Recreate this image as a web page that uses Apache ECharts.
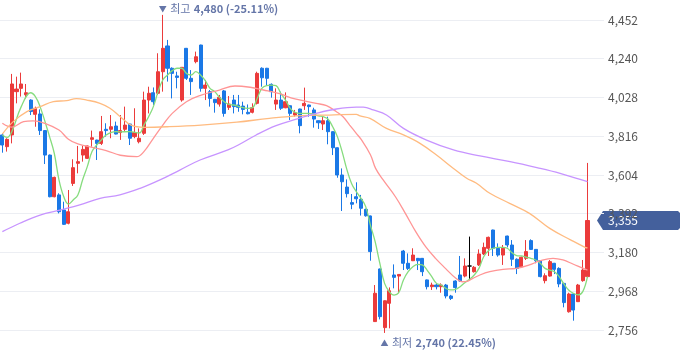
<!DOCTYPE html>
<html><head><meta charset="utf-8">
<script src="https://cdn.jsdelivr.net/npm/echarts@6/dist/echarts.min.js"></script>
<style>html,body{margin:0;padding:0;background:#fff}#c{width:680px;height:358px}</style>
</head><body><div id="c"></div>
<script>
const opens  = [3823,3759,3823,4060,4078,4043,4014,3936,3938,3847,3713,3485,3495,3413,3340,3558,3668,3713,3695,3799,3795,3777,3854,3854,3872,3836,3854,3883,3814,3786,3832,4014,4054,4051,4169,4310,4188,4146,4014,4297,4133,4224,4315,4078,4060,4018,3992,4064,3974,4014,3987,3981,3947,3947,3996,4188,4188,4100,3992,4014,3972,3983,3932,3965,3983,3987,3960,3901,3883,3901,3841,3753,3604,3538,3453,3485,3471,3416,3380,2802,3090,2769,2902,3057,3051,3188,3121,3135,3148,3148,3030,2993,3002,2993,3002,2942,3024,3057,3051,3106,3075,3112,3172,3203,3303,3203,3166,3270,3221,3143,3102,3148,3245,3197,3135,3026,3051,3121,3093,3011,2856,2953,2911,3026,3048];
const closes = [3768,3799,4102,4074,4102,4054,3951,3969,3847,3713,3485,3591,3403,3334,3403,3644,3677,3744,3763,3808,3777,3841,3847,3868,3828,3847,3877,3805,3836,3805,4014,4051,4005,4169,4297,4188,4160,4138,4193,4133,4115,4251,4078,4096,4023,4000,4029,3941,3992,3978,3974,3963,3939,3972,4160,4136,4133,4060,4014,3969,4005,3941,3945,3874,3996,3978,3910,3890,3901,3841,3753,3604,3567,3502,3444,3474,3422,3381,3185,2957,2829,2916,2971,3044,3060,3121,3093,3166,3135,3075,2993,3002,2993,3002,2942,2929,2988,3024,3106,3106,3099,3172,3208,3263,3203,3166,3203,3221,3143,3093,3154,3185,3197,3135,3048,3053,3130,3088,3008,2906,2953,2865,3002,3084,3355];
const lows   = [3726,3732,3777,3996,4033,4023,3932,3868,3823,3664,3482,3482,3394,3331,3334,3544,3613,3677,3692,3759,3686,3768,3814,3805,3826,3796,3841,3768,3805,3777,3823,3941,3987,4042,4060,4115,4023,4078,4005,4124,4042,4215,4060,4014,3978,3945,3978,3923,3960,3941,3950,3936,3936,3941,3990,4087,4096,4027,3960,3960,3969,3905,3923,3832,3960,3923,3863,3856,3850,3772,3713,3589,3407,3481,3417,3449,3382,3376,3135,2800,2814,2740,2765,2984,2957,3084,3084,3133,3084,3051,2978,2975,2978,2960,2929,2920,2960,3020,3044,3029,3070,3106,3166,3161,3161,3157,3112,3208,3106,3062,3099,3139,3194,3121,3044,3011,3048,3062,2990,2880,2851,2807,2909,3020,3040];
const highs  = [3833,3805,4157,4142,4164,4102,4018,3978,3963,3850,3716,3595,3504,3458,3522,3690,3763,3763,3765,3847,3797,3927,3887,3932,3896,3932,3978,3885,3969,3859,4060,4087,4083,4270,4480,4343,4193,4169,4195,4299,4178,4279,4317,4124,4069,4020,4042,4069,4036,4042,4042,4005,3990,3996,4169,4193,4190,4105,4078,4060,4056,3987,3960,3967,4082,3989,3972,3903,3923,3923,3843,3755,3640,3580,3500,3564,3495,3420,3382,3002,3092,2918,2989,3115,3062,3194,3175,3203,3150,3150,3032,3015,3011,3011,3008,2948,3028,3161,3148,3267,3106,3197,3234,3267,3305,3230,3221,3272,3248,3148,3157,3248,3252,3199,3137,3066,3139,3123,3099,3013,2960,2957,3008,3139,3670];
const categories = Array.from({length: 128}, (_, i) => 'D' + (i + 1));
const yTicks = [2756, 2968, 3180, 3392, 3604, 3816, 4028, 4240, 4452];

const ma5 = [[0,3823],[1,3810],[2,3841],[4,3978],[6,4054],[7,4033],[8,3978],[10,3814],[11,3723],[12,3577],[13,3486],[14,3445],[15,3467],[16,3495],[17,3577],[18,3650],[19,3732],[20,3768],[21,3796],[22,3823],[24,3841],[25,3840],[27,3841],[29,3834],[30,3877],[31,3923],[32,3978],[33,4060],[34,4124],[35,4151],[36,4175],[37,4188],[38,4188],[39,4160],[40,4151],[41,4169],[42,4151],[43,4120],[44,4078],[45,4060],[46,4029],[47,4005],[48,3990],[49,3987],[50,3980],[51,3972],[52,3969],[53,3972],[54,4023],[55,4078],[56,4093],[57,4096],[58,4093],[59,4051],[60,4014],[61,3969],[62,3947],[63,3941],[64,3941],[65,3941],[66,3936],[67,3928],[68,3923],[69,3910],[70,3868],[71,3814],[72,3732],[73,3635],[74,3558],[75,3513],[76,3476],[77,3431],[78,3330],[79,3239],[80,3120],[81,3011],[82,2966],[83,2947],[84,2960],[85,3030],[86,3075],[87,3102],[88,3115],[89,3112],[90,3084],[91,3048],[92,3011],[93,3002],[94,2984],[95,2975],[96,2978],[97,2993],[98,3015],[99,3033],[100,3057],[101,3093],[102,3157],[103,3190],[104,3203],[105,3208],[106,3208],[107,3203],[108,3179],[109,3163],[110,3161],[111,3154],[112,3148],[113,3139],[114,3121],[115,3093],[116,3084],[117,3075],[118,3048],[119,3008],[120,2975],[121,2957],[122,2948],[123,2966],[124,3048]];
const ma20 = [[0,3887],[2,3866],[4.5,3896],[6.5,3900],[9,3887],[12,3850],[14,3800],[16,3774],[19,3755],[22,3738],[25,3712],[28.5,3704],[30,3732],[32,3805],[34,3877],[36,3941],[39,4005],[42,4040],[46,4069],[49.3,4091],[52.5,4084],[55.3,4069],[58.5,4050],[62,4020],[66.5,3996],[68.7,3983],[70.8,3950],[72.2,3923],[73.6,3877],[75,3832],[76,3800],[78,3715],[79.1,3640],[80.7,3577],[83.3,3485],[85.4,3394],[87.6,3294],[89.7,3212],[91.8,3148],[93.9,3093],[96.1,3039],[97.5,3020],[98.5,3022],[99.5,3036],[101.2,3057],[103.3,3075],[106.1,3088],[108.9,3093],[111.7,3112],[113.9,3134],[116.7,3148],[118.8,3139],[120.9,3117],[123.1,3093],[124,3084]];
const ma60 = [[0,3828],[2.3,3896],[5.2,3951],[8,3978],[10.8,4005],[13.6,4011],[15.7,4022],[17.9,4014],[20.7,3996],[22.8,3969],[25,3923],[27.3,3877],[30.1,3865],[35,3868],[42.1,3877],[49.7,3893],[56.6,3914],[63.6,3929],[69.3,3932],[75,3936],[75.8,3927],[77.9,3914],[81.4,3859],[85,3823],[88.5,3777],[92,3713],[95.6,3640],[98.4,3586],[100.4,3560],[103.3,3504],[107.5,3449],[111.7,3394],[116,3312],[120.5,3248],[123.5,3208],[124,3205]];
const ma120 = [[0,3294],[3.7,3340],[8,3385],[12.2,3412],[16.4,3440],[20.7,3476],[24.9,3495],[29.2,3531],[33.4,3577],[37.6,3631],[41.9,3686],[47.8,3741],[50,3768],[53.8,3823],[58,3874],[62.3,3910],[66.5,3941],[70.8,3965],[75,3975],[76.5,3975],[78.6,3960],[81.4,3932],[85,3859],[89.9,3795],[95.6,3741],[101.2,3708],[107.6,3677],[114,3640],[118.2,3613],[121.7,3586],[124,3568]];

const maxPoint = {idx: 34, value: 4480, text: '4,480 (-25.11%)', label: '최고'};
const minPoint = {idx: 81, value: 2740, text: '2,740 (22.45%)', label: '최저'};
const lastPrice = 3355;

const UP = '#eb3b3b', DOWN = '#1a78e6';
const FONT = '"Noto Sans CJK KR","Noto Sans",sans-serif';
const candleData = opens.map((o, i) => [o, closes[i], lows[i], highs[i]]);

const chart = echarts.init(document.getElementById('c'), null, {renderer: 'canvas'});
function maSeries(name, data, color, w) {
  return {name, type: 'line', xAxisIndex: 1, yAxisIndex: 0, data, smooth: 0.4, showSymbol: false,
    lineStyle: {color, width: w}, z: 5, silent: true};
}
const labelColor = '#6576a8';
chart.setOption({
  animation: false,
  grid: {left: 0, right: 76, top: 0, bottom: 0, containLabel: false},
  xAxis: [
    {type: 'category', data: categories, show: false, boundaryGap: true},
    {type: 'value', min: -0.5, max: 127.5, show: false}
  ],
  yAxis: {type: 'value', position: 'right', min: 2602.8, max: 4561.4,
    axisLine: {show: false}, axisTick: {show: false, customValues: yTicks},
    splitLine: {show: false},
    axisLabel: {margin: 4, color: '#555', fontSize: 12, fontFamily: FONT, customValues: yTicks,
      formatter: v => Number(v).toLocaleString('en-US')}
  },
  series: [
    {type: 'candlestick', xAxisIndex: 0, data: candleData, barWidth: '76%', z: 3,
      itemStyle: {color: UP, color0: DOWN, borderColor: UP, borderColor0: DOWN, borderColorDoji: '#000', borderWidth: 1},
      markLine: {
        silent: true, symbol: 'none', z: 1, label: {show: false},
        lineStyle: {color: '#eceef3', width: 1, type: 'solid'},
        data: yTicks.map(v => ({yAxis: v}))
      },
      markPoint: {
        symbol: 'circle', symbolSize: 0, silent: true,
        data: [
          {coord: [maxPoint.idx, maxPoint.value],
           label: {show: true, position: [-4, -6], align: 'left', verticalAlign: 'middle',
             formatter: '{a|▼} {c|' + maxPoint.label + '} {b|' + maxPoint.text + '}',
             rich: {a: {fontSize: 8, color: labelColor, fontFamily: FONT},
                    c: {fontSize: 11, color: labelColor, fontFamily: FONT},
                    b: {fontSize: 11, fontWeight: 'bold', color: labelColor, fontFamily: FONT}}}},
          {coord: [minPoint.idx, minPoint.value],
           label: {show: true, position: [-4, 10], align: 'left', verticalAlign: 'middle',
             formatter: '{a|▲} {c|' + minPoint.label + '} {b|' + minPoint.text + '}',
             rich: {a: {fontSize: 8, color: labelColor, fontFamily: FONT},
                    c: {fontSize: 11, color: labelColor, fontFamily: FONT},
                    b: {fontSize: 11, fontWeight: 'bold', color: labelColor, fontFamily: FONT}}}}
        ]
      }
    },
    maSeries('MA5', ma5, '#86dc7e', 1.3),
    maSeries('MA20', ma20, '#ff9595', 1.3),
    maSeries('MA60', ma60, '#ffbb80', 1.3),
    maSeries('MA120', ma120, '#c794ff', 1.3)
  ]
});

const py = chart.convertToPixel({yAxisIndex: 0}, lastPrice);
chart.setOption({
  graphic: [{
    type: 'group', z: 100,
    children: [
      {type: 'polygon', shape: {points: [[597, py], [603, py - 9.5], [678, py - 9.5], [680, py - 7.5], [680, py + 7.5], [678, py + 9.5], [603, py + 9.5]]},
       style: {fill: '#44609c'}},
      {type: 'text', x: 608, y: py, style: {text: lastPrice.toLocaleString('en-US'), fill: '#fff', font: '12px ' + FONT, verticalAlign: 'middle'}}
    ]
  }]
});
</script></body></html>
